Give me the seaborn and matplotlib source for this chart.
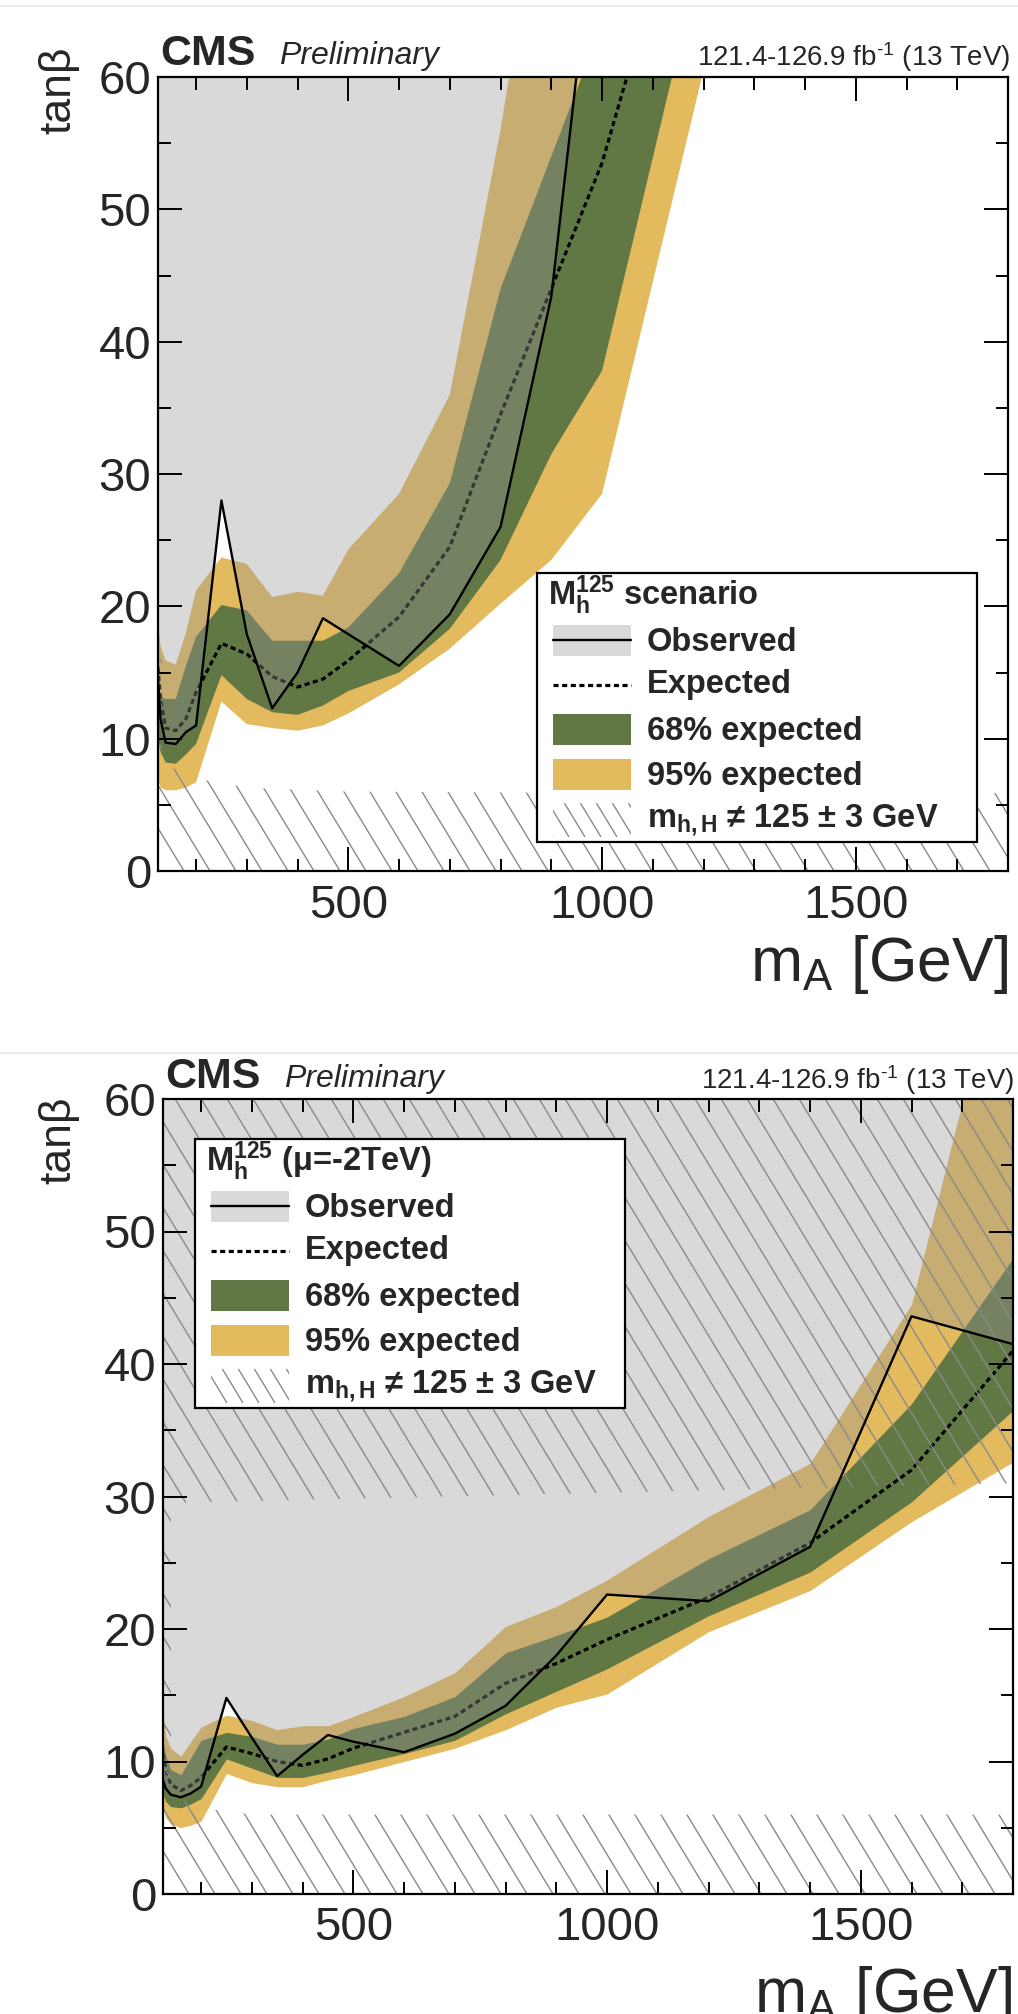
import numpy as np
import pandas as pd
import matplotlib
matplotlib.use("Agg")
import matplotlib.pyplot as plt
import seaborn as sns
from matplotlib.patches import Polygon, Rectangle
from matplotlib.collections import LineCollection
from matplotlib.lines import Line2D
from matplotlib.transforms import Affine2D
from matplotlib.ticker import MultipleLocator, FixedLocator
from matplotlib import font_manager

# ---------------- data ----------------
mass = [125, 130, 140, 160, 180, 200, 250, 300, 350, 400, 450, 500, 600, 700,
        800, 900, 1000, 1200, 1400, 1600, 1800]

# Panel 1: M_h^125 scenario
obs_1 = [14.5, 11.5, 9.7, 9.6, 10.5, 11.0, 28.0, 17.9, 12.3, 15.0, 19.1, 17.9, 15.5, 19.4,
         26.0, 43.4, 77.0, 120, 160, 200, 240]
exp_1 = [15.4, 13.0, 10.8, 10.6, 11.5, 13.5, 17.2, 16.4, 14.7, 13.9, 14.5, 15.9, 19.2, 24.5,
         34.5, 44.0, 53.5, 80, 110, 140, 170]
p68_1 = [14.0, 13.2, 13.0, 13.0, 15.5, 17.7, 20.1, 19.7, 17.4, 17.4, 17.4, 18.4, 22.5, 29.3,
         44.0, 54.0, 64.0, 90, 120, 150, 180]
m68_1 = [10.0, 9.0, 8.2, 8.1, 8.8, 9.6, 14.8, 13.0, 12.0, 11.8, 12.5, 13.6, 15.0, 18.3,
         23.5, 31.5, 37.8, 70, 100, 130, 160]
p95_1 = [19.0, 17.0, 15.9, 15.6, 18.0, 21.2, 23.7, 23.2, 20.7, 21.1, 20.8, 24.3, 28.5, 36.0,
         56.0, 80, 100, 130, 160, 190, 220]
m95_1 = [7.0, 6.3, 6.1, 6.1, 6.3, 6.7, 12.8, 11.1, 10.8, 10.6, 11.0, 11.9, 14.1, 16.8,
         20.2, 23.5, 28.5, 60.5, 90, 120, 150]
# theory-excluded (m_h,H != 125 +- 3 GeV) boundaries, panel 1
hatch1_low_m = [125, 140, 200, 300, 500, 1000, 1800]
hatch1_low_y = [8.5, 8.0, 7.0, 6.3, 6.0, 5.9, 5.9]
hatch1_left_m = [125, 133]
hatch1_left_y = [8.0, 16.0]

# Panel 2: M_h^125 (mu=-2TeV)
obs_2 = [8.6, 8.0, 7.5, 7.3, 7.6, 8.1, 14.8, 11.8, 8.9, 10.5, 12.0, 11.5, 10.7, 12.1,
         14.2, 18.0, 22.6, 22.1, 26.2, 43.6, 41.5]
exp_2 = [10.6, 9.5, 8.3, 7.8, 8.2, 8.8, 11.1, 10.6, 10.0, 9.7, 10.2, 11.0, 12.2, 13.4,
         15.9, 17.4, 19.2, 22.4, 26.5, 32.0, 41.0]
p68_2 = [11.5, 10.5, 9.4, 9.0, 10.3, 11.6, 12.2, 11.9, 11.3, 11.3, 11.7, 12.5, 13.4, 14.9,
         18.2, 19.5, 20.9, 25.3, 29.0, 37.0, 48.0]
m68_2 = [7.5, 7.0, 6.6, 6.5, 6.8, 7.2, 10.2, 9.5, 8.8, 8.8, 9.2, 9.7, 10.6, 11.6,
         13.6, 15.3, 17.0, 21.0, 24.3, 29.6, 36.5]
p95_2 = [13.6, 12.0, 11.0, 10.4, 11.5, 12.6, 13.5, 13.1, 12.4, 12.7, 12.7, 13.4, 14.9, 16.7,
         20.2, 21.7, 23.7, 28.5, 32.5, 44.5, 75.0]
m95_2 = [6.5, 5.8, 5.3, 5.0, 5.2, 5.5, 9.1, 8.4, 8.1, 8.1, 8.6, 9.0, 10.0, 11.0,
         12.4, 14.1, 15.1, 19.8, 22.9, 28.1, 32.6]
hatch2_low_m = [125, 140, 200, 300, 1800]
hatch2_low_y = [8.0, 7.5, 6.5, 6.0, 6.0]
hatch2_high_m = [125, 1800]
hatch2_high_y = [29.5, 31.0]
hatch2_left_m = [125, 140]
hatch2_left_y = [7.0, 30.0]

xticks_major = [500, 1000, 1500]
yticks_major = [0, 10, 20, 30, 40, 50, 60]
legend_rows = ["Observed", "Expected", "68% expected", "95% expected",
               r"$\mathbf{m}_{\mathbf{h,H}}$ ≠ 125 ± 3 GeV"]

# ---------------- style ----------------
sns.set_theme(style="white")
names = {f.name for f in font_manager.fontManager.ttflist}
BASE = "Liberation Sans" if "Liberation Sans" in names else "DejaVu Sans"
NARROW = "Liberation Sans Narrow" if "Liberation Sans Narrow" in names else None
plt.rcParams["font.family"] = [BASE, "DejaVu Sans"]
plt.rcParams["mathtext.fontset"] = "custom"
plt.rcParams["mathtext.rm"] = BASE
plt.rcParams["mathtext.it"] = BASE + ":italic"
plt.rcParams["mathtext.bf"] = BASE + ":bold"
plt.rcParams["axes.edgecolor"] = "black"
plt.rcParams["axes.linewidth"] = 1.6

C68 = "#617744"
C95 = "#E4BA5F"
CGRAY = (150 / 255, 150 / 255, 150 / 255)
GRAY_A = 0.36
CHATCH = "#8a8a8a"

W, H = 1018, 2014
fig = plt.figure(figsize=(W / 100, H / 100), dpi=100)
PX = Affine2D().scale(1 / W, -1 / H).translate(0, 1) + fig.transFigure

TICKF = NARROW if NARROW else BASE
TICKS = 38 if NARROW else 34
LEGFS = 23.5


def hatch_segments(x0, x1, y0, y1, step=26, slope=1.65):
    segs = []
    dx = (y1 - y0) / slope
    c = x0 - dx
    while c < x1 + step:
        segs.append([(c, y0), (c + dx, y1)])
        c += step
    return segs


def add_hatch(ax, verts, box):
    patch = Polygon(verts, closed=True, fill=False, edgecolor="none",
                    transform=ax.transData)
    ax.add_patch(patch)
    lc = LineCollection(hatch_segments(*box), transform=PX, colors=CHATCH,
                        linewidths=1.0, zorder=1.6)
    lc.set_clip_path(patch)
    ax.add_collection(lc, autolim=False)


def draw_panel(ax, obs, exp, p68, m68, p95, m95, hatch_polys, box):
    ax.fill_between(mass, m95, p95, color=C95, lw=0, zorder=1.0)
    ax.fill_between(mass, m68, p68, color=C68, lw=0, zorder=1.1)
    df = pd.DataFrame({"m": mass, "obs": obs, "exp": exp})
    sns.lineplot(data=df, x="m", y="exp", ax=ax, color="black", lw=2.3,
                 linestyle=(0, (1.6, 1.1)), zorder=1.2, estimator=None, sort=False)
    ax.fill_between(mass, obs, 1000, color=CGRAY, alpha=GRAY_A, lw=0, zorder=1.4)
    for verts in hatch_polys:
        add_hatch(ax, verts, box)
    sns.lineplot(data=df, x="m", y="obs", ax=ax, color="black", lw=1.7,
                 zorder=2.0, estimator=None, sort=False)
    ax.set_xlim(125, 1800)
    ax.set_ylim(0, 60)
    ax.set_xlabel("")
    ax.set_ylabel("")
    ax.set_axisbelow(False)
    ax.xaxis.set_major_locator(FixedLocator(xticks_major))
    ax.xaxis.set_minor_locator(MultipleLocator(100))
    ax.yaxis.set_major_locator(FixedLocator(yticks_major))
    ax.yaxis.set_minor_locator(MultipleLocator(5))
    ax.tick_params(which="both", direction="in", top=True, right=True,
                   bottom=True, left=True, color="black", width=1.4)
    ax.tick_params(which="major", length=17.5)
    ax.tick_params(which="minor", length=9)
    ax.tick_params(axis="x", which="major", pad=9, labelsize=TICKS)
    ax.tick_params(axis="y", which="major", pad=5, labelsize=TICKS)
    ax.set_xticklabels([str(v) for v in xticks_major])
    ax.set_yticklabels([str(v) for v in yticks_major])
    for lbl in ax.get_xticklabels() + ax.get_yticklabels():
        lbl.set_fontfamily(TICKF)
    for s in ax.spines.values():
        s.set_linewidth(1.6)
        s.set_color("black")


def draw_legend(L, T, R, title):
    B = T + 269
    fig.add_artist(Rectangle((L, T), R - L, B - T, transform=PX, facecolor="white",
                             edgecolor="black", lw=1.6, zorder=10))
    fig.text(L + 11, T + 32, title, transform=PX, fontsize=LEGFS, fontweight="bold",
             va="baseline", ha="left", zorder=11)
    sx0, sx1 = L + 16, L + 94
    # observed
    fig.add_artist(Rectangle((sx0, T + 52), sx1 - sx0, 31, transform=PX,
                             facecolor="#d9d9d9", edgecolor="none", zorder=11))
    fig.add_artist(Line2D([sx0, sx1], [T + 67, T + 67], transform=PX, color="black",
                          lw=1.7, zorder=12))
    # expected
    fig.add_artist(Line2D([sx0, sx1], [T + 112, T + 112], transform=PX, color="black",
                          lw=2.3, linestyle=(0, (1.6, 1.1)), zorder=12))
    fig.add_artist(Rectangle((sx0, T + 141), sx1 - sx0, 31, transform=PX,
                             facecolor=C68, edgecolor="none", zorder=11))
    fig.add_artist(Rectangle((sx0, T + 186), sx1 - sx0, 31, transform=PX,
                             facecolor=C95, edgecolor="none", zorder=11))
    hrect = Rectangle((sx0, T + 230), sx1 - sx0, 34, transform=PX,
                      facecolor="none", edgecolor="none", zorder=11)
    fig.add_artist(hrect)
    lc = LineCollection(hatch_segments(sx0, sx1, T + 230, T + 264, step=16),
                        transform=PX, colors=CHATCH, linewidths=1.0, zorder=12)
    lc.set_clip_path(hrect)
    fig.add_artist(lc)
    for lab, yb in zip(legend_rows, [78, 120, 167, 212, 254]):
        fig.text(L + 110, T + yb, lab, transform=PX, fontsize=LEGFS, fontweight="bold",
                 va="baseline", ha="left", zorder=12)


def headers(xl, yb, xr):
    fig.text(xl, yb, "CMS", transform=PX, fontsize=31, fontweight="bold",
             va="baseline", ha="left")
    fig.text(xl + 119, yb - 1, "Preliminary", transform=PX, fontsize=23,
             style="italic", va="baseline", ha="left")
    fig.text(xr, yb + 1, r"121.4-126.9 fb$^{\text{-1}}$ (13 TeV)", transform=PX,
             fontsize=20, va="baseline", ha="right")


# page separator lines (faint)
for yy in (6, 1053):
    fig.add_artist(Line2D([0, W], [yy, yy], transform=PX, color="#ebebeb", lw=1.5))

# ---------------- panel 1 ----------------
ax1 = fig.add_axes([158 / W, 1 - 871 / H, 850 / W, 794 / H])
polys1 = [
    [(hatch1_low_m[0], 0)] + list(zip(hatch1_low_m, hatch1_low_y)) + [(hatch1_low_m[-1], 0)],
    [(hatch1_left_m[0], hatch1_left_y[0]), (hatch1_left_m[1], hatch1_left_y[0]),
     (hatch1_left_m[1], hatch1_left_y[1]), (hatch1_left_m[0], hatch1_left_y[1])],
]
draw_panel(ax1, obs_1, exp_1, p68_1, m68_1, p95_1, m95_1, polys1, (158, 1008, 77, 871))
headers(160, 65, 1010)
fig.text(59, 90, "tanβ", transform=PX, rotation=90, fontsize=32, ha="center", va="center")
fig.text(1008, 933, r"m$_{\rm A}$ [GeV]", transform=PX, fontsize=45, ha="right", va="top")
draw_legend(537, 573, 977, r"$\mathbf{M}_{\mathbf{h}}^{\mathbf{125}}$ scenario")

# ---------------- panel 2 ----------------
ax2 = fig.add_axes([163 / W, 1 - 1894 / H, 850 / W, 795 / H])
polys2 = [
    [(hatch2_low_m[0], 0)] + list(zip(hatch2_low_m, hatch2_low_y)) + [(hatch2_low_m[-1], 0)],
    [(hatch2_high_m[0], 60)] + list(zip(hatch2_high_m, hatch2_high_y)) + [(hatch2_high_m[-1], 60)],
    [(hatch2_left_m[0], hatch2_left_y[0]), (hatch2_left_m[1], hatch2_left_y[0]),
     (hatch2_left_m[1], hatch2_left_y[1]), (hatch2_left_m[0], hatch2_left_y[1])],
]
draw_panel(ax2, obs_2, exp_2, p68_2, m68_2, p95_2, m95_2, polys2, (163, 1013, 1099, 1894))
headers(165, 1088, 1014)
fig.text(59, 1140, "tanβ", transform=PX, rotation=90, fontsize=32, ha="center", va="center")
fig.text(1012, 1964, r"m$_{\rm A}$ [GeV]", transform=PX, fontsize=45, ha="right", va="top")
draw_legend(195, 1139, 625, r"$\mathbf{M}_{\mathbf{h}}^{\mathbf{125}}$ (μ=-2TeV)")

fig.savefig("out.png", dpi=100)
